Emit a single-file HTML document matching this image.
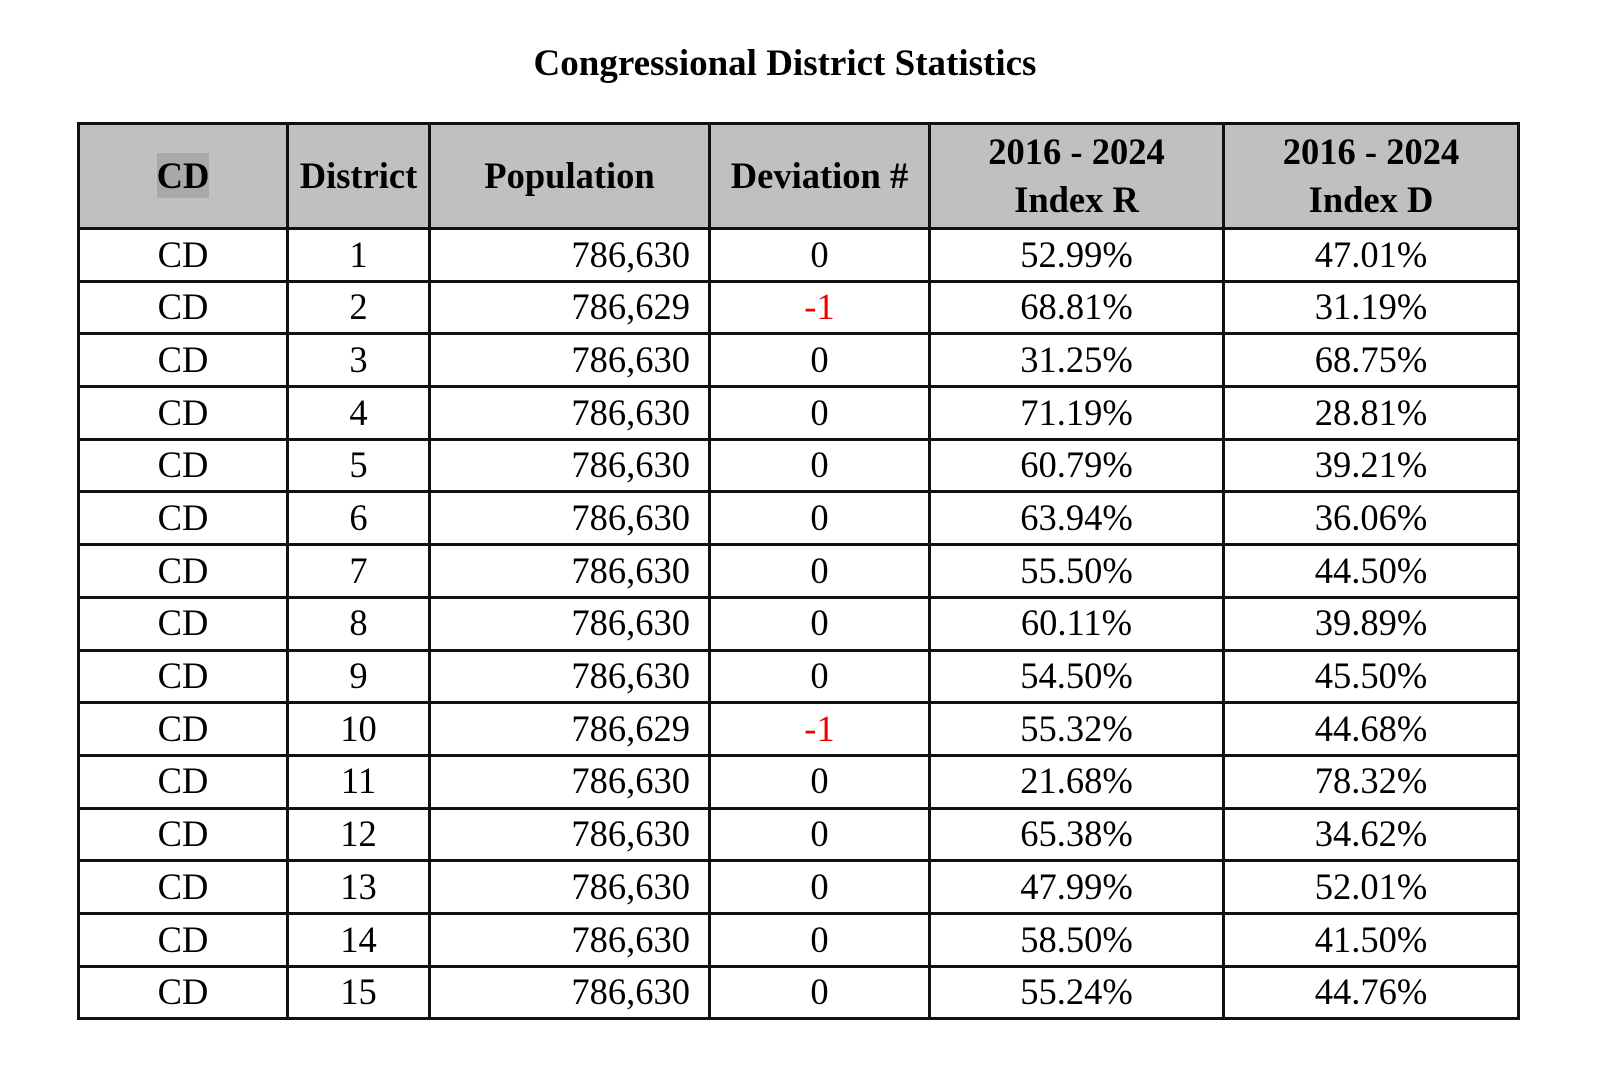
<!DOCTYPE html>
<html><head><style>
body{margin:0;width:1600px;height:1077px;background:#fff;font-family:"Liberation Serif",serif;position:relative;overflow:hidden}
h1{position:absolute;top:42px;left:0;width:1570px;text-align:center;margin:0;font-size:37px;font-weight:bold}
table{position:absolute;left:77px;top:122px;border-collapse:collapse;table-layout:fixed}
td,th{border:3px solid #111;font-size:36.5px;padding:0;text-align:center;height:49.7px;line-height:1}
th{background:#c0c0c0;height:102px;font-weight:bold;line-height:48px}
td.r{text-align:right;padding-right:18px}
.red{color:#e00}
.hl{background:#a9a9a9;padding:2px 0}
</style></head><body>
<h1>Congressional District Statistics</h1>
<table>
<colgroup><col style="width:209px"><col style="width:142px"><col style="width:280px"><col style="width:220px"><col style="width:294px"><col style="width:295px"></colgroup>
<tr><th><span class="hl">CD</span></th><th>District</th><th>Population</th><th>Deviation #</th><th>2016 - 2024<br>Index R</th><th>2016 - 2024<br>Index D</th></tr>
<tr><td>CD</td><td>1</td><td class="r">786,630</td><td>0</td><td>52.99%</td><td>47.01%</td></tr>
<tr><td>CD</td><td>2</td><td class="r">786,629</td><td class="red">-1</td><td>68.81%</td><td>31.19%</td></tr>
<tr><td>CD</td><td>3</td><td class="r">786,630</td><td>0</td><td>31.25%</td><td>68.75%</td></tr>
<tr><td>CD</td><td>4</td><td class="r">786,630</td><td>0</td><td>71.19%</td><td>28.81%</td></tr>
<tr><td>CD</td><td>5</td><td class="r">786,630</td><td>0</td><td>60.79%</td><td>39.21%</td></tr>
<tr><td>CD</td><td>6</td><td class="r">786,630</td><td>0</td><td>63.94%</td><td>36.06%</td></tr>
<tr><td>CD</td><td>7</td><td class="r">786,630</td><td>0</td><td>55.50%</td><td>44.50%</td></tr>
<tr><td>CD</td><td>8</td><td class="r">786,630</td><td>0</td><td>60.11%</td><td>39.89%</td></tr>
<tr><td>CD</td><td>9</td><td class="r">786,630</td><td>0</td><td>54.50%</td><td>45.50%</td></tr>
<tr><td>CD</td><td>10</td><td class="r">786,629</td><td class="red">-1</td><td>55.32%</td><td>44.68%</td></tr>
<tr><td>CD</td><td>11</td><td class="r">786,630</td><td>0</td><td>21.68%</td><td>78.32%</td></tr>
<tr><td>CD</td><td>12</td><td class="r">786,630</td><td>0</td><td>65.38%</td><td>34.62%</td></tr>
<tr><td>CD</td><td>13</td><td class="r">786,630</td><td>0</td><td>47.99%</td><td>52.01%</td></tr>
<tr><td>CD</td><td>14</td><td class="r">786,630</td><td>0</td><td>58.50%</td><td>41.50%</td></tr>
<tr><td>CD</td><td>15</td><td class="r">786,630</td><td>0</td><td>55.24%</td><td>44.76%</td></tr>
</table>
</body></html>
